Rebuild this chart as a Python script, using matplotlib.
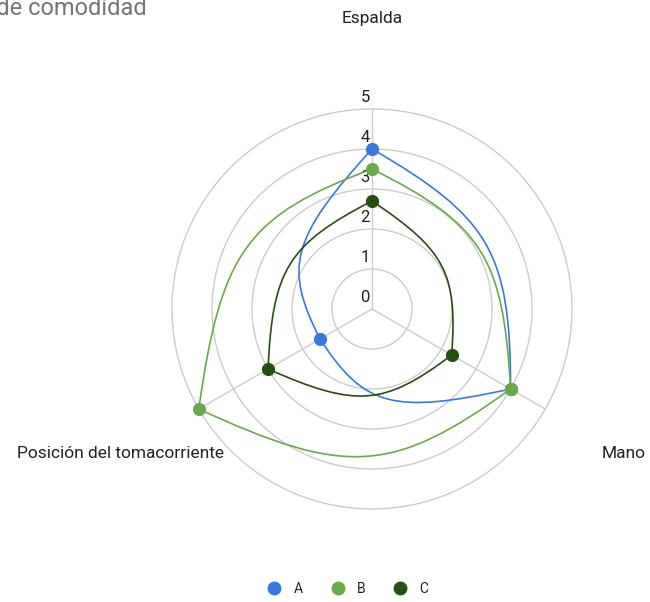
import numpy as np
import matplotlib
matplotlib.use('Agg')
import matplotlib.pyplot as plt
from matplotlib.path import Path
from matplotlib.patches import PathPatch, Circle
from matplotlib.lines import Line2D

# ---- data ----
categories = ['Espalda', 'Mano', 'Posición del tomacorriente']
series_names = ['A', 'B', 'C']
values_A = [4.0, 4.0, 1.5]
values_B = [3.5, 4.0, 5.0]
values_C = [2.7, 2.3, 3.0]
tick_values = [0, 1, 2, 3, 4, 5]
title_text = 'Nivel de comodidad'

colors = ['#3c78d8', '#6aa84f', '#274e13']
series = [values_A, values_B, values_C]

plt.rcParams['font.family'] = ['Roboto', 'DejaVu Sans']

W, H = 650, 602
CX, CY, UNIT = 372, 309, 40.0
fig = plt.figure(figsize=(W / 100, H / 100), dpi=100)
ax = fig.add_axes([0, 0, 1, 1])
ax.set_xlim(-CX / UNIT, (W - CX) / UNIT)
ax.set_ylim((CY - H) / UNIT, CY / UNIT)
ax.axis('off')

n = len(categories)
angles = np.deg2rad(90 - 360.0 / n * np.arange(n))
rmax = max(tick_values)

# grid rings
for v in tick_values[1:]:
    ax.add_patch(Circle((0, 0), v, fill=False, ec='#cccccc', lw=1.0, zorder=1))
# spokes
for a in angles:
    ax.plot([0, rmax * np.cos(a)], [0, rmax * np.sin(a)], color='#cccccc', lw=1.0, zorder=1)
# tick labels
for v in tick_values:
    ax.text(-0.175, v + 0.3, str(v), ha='center', va='center', fontsize=12, color='#222222', zorder=2)
# category labels
for a, c in zip(angles, categories):
    R = 7.25
    ax.text(R * np.cos(a), R * np.sin(a), c, ha='center', va='center', fontsize=12.5, color='#222222')

# smooth segments
k = 0.85
step = np.deg2rad(360.0 / n)
for vals, col in zip(series, colors):
    verts, codes = [], []
    for i in range(n):
        j = (i + 1) % n
        ri, rj = vals[i], vals[j]
        ai = angles[i]
        aj = ai - step
        am = ai - step / 2
        P0 = np.array([ri * np.cos(ai), ri * np.sin(ai)])
        P3 = np.array([rj * np.cos(aj), rj * np.sin(aj)])
        rq = (ri + rj) / 2
        Q = np.array([rq * np.cos(am), rq * np.sin(am)])
        P1 = P0 + k * (Q - P0)
        P2 = P3 + k * (Q - P3)
        verts += [P0, P1, P2, P3]
        codes += [Path.MOVETO, Path.CURVE4, Path.CURVE4, Path.CURVE4]
    ax.add_patch(PathPatch(Path(verts, codes), fill=False, ec=col, lw=1.2, zorder=3))

for vals, col in zip(series, colors):
    v = np.array(vals)
    ax.plot(v * np.cos(angles), v * np.sin(angles), 'o', color=col, ms=9.5, mec='none', zorder=4)

# legend
handles = [Line2D([], [], marker='o', ls='none', color=c, ms=10, mec='none') for c in colors]
fig.legend(handles, series_names, loc='center', bbox_to_anchor=(348 / W, 1 - 589 / H),
           ncol=3, frameon=False, fontsize=10, handlelength=1.0, handletextpad=0.9,
           columnspacing=2.0, labelcolor='#222222')

# title (cropped at left edge as in reference)
fig.text(147 / W, 1 - 15 / H, title_text, ha='right', va='baseline', fontsize=17, color='#757575')

fig.savefig('out.png', dpi=100)
